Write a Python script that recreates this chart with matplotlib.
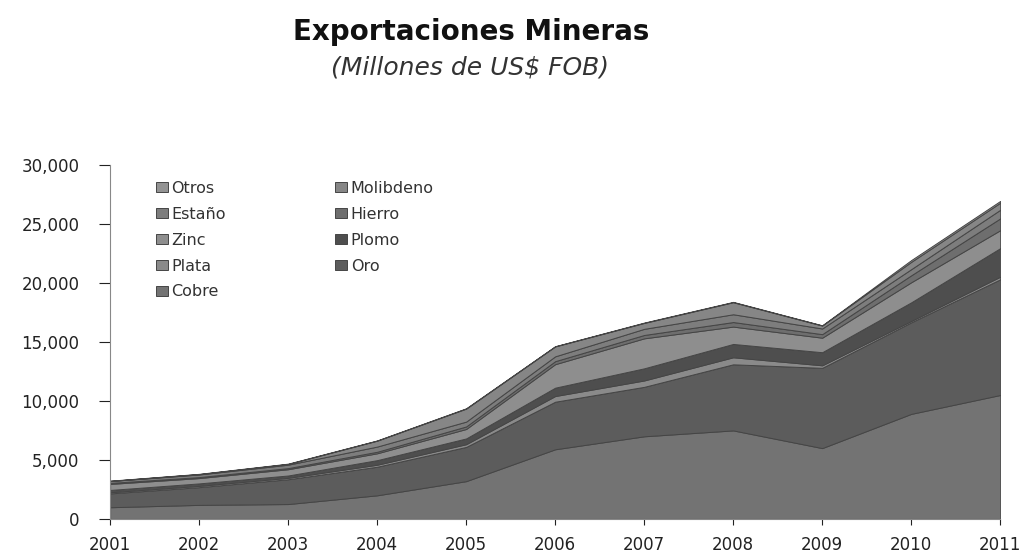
import matplotlib.pyplot as plt
import numpy as np

plt.rcParams['font.family'] = ['DejaVu Sans']

years = np.arange(2001, 2012)

# Exportaciones mineras por producto (millones US$ FOB), de abajo hacia arriba
cobre = [990, 1190, 1260, 2000, 3200, 5900, 7000, 7500, 6000, 8900, 10500]
oro = [1170, 1500, 2100, 2420, 2900, 4030, 4190, 5600, 6800, 7750, 9800]
plata = [100, 110, 120, 170, 230, 480, 540, 595, 214, 120, 220]
plomo = [195, 210, 200, 390, 490, 710, 1030, 1130, 1110, 1580, 2420]
zinc = [510, 450, 530, 580, 800, 1990, 2540, 1470, 1230, 1700, 1520]
hierro = [85, 85, 95, 130, 215, 255, 285, 385, 300, 590, 1000]
estano = [160, 220, 290, 440, 410, 410, 520, 660, 480, 520, 730]
molibdeno = [10, 30, 60, 500, 1100, 840, 500, 1020, 250, 620, 600]
otros = [20, 25, 30, 20, 30, 20, 30, 30, 20, 150, 150]

series = [cobre, oro, plata, plomo, zinc, hierro, estano, molibdeno, otros]
names = ["Cobre", "Oro", "Plata", "Plomo", "Zinc", "Hierro", "Estaño",
         "Molibdeno", "Otros"]
colors = ["#737373", "#5c5c5c", "#8a8a8a", "#4e4e4e", "#8e8e8e",
          "#6e6e6e", "#7d7d7d", "#868686", "#939393"]

fig = plt.figure(figsize=(10.29, 5.55), dpi=100)
ax = fig.add_axes([0.107, 0.065, 0.865, 0.638])

polys = ax.stackplot(years, *series, colors=colors, edgecolor="#454545",
                     linewidth=0.7)

ax.set_xlim(2001, 2011)
ax.set_ylim(0, 30000)
ax.set_xticks(years)
ax.set_yticks(np.arange(0, 30001, 5000))
ax.yaxis.set_major_formatter(plt.FuncFormatter(lambda v, p: f"{int(v):,}"))
ax.tick_params(labelsize=12, colors="#222222", width=0.8)
ax.tick_params(axis="y", length=8, pad=14)
ax.tick_params(axis="x", length=4, pad=8)
for side in ["top", "right"]:
    ax.spines[side].set_visible(False)
for side in ["left", "bottom"]:
    ax.spines[side].set_color("#888888")
    ax.spines[side].set_linewidth(0.8)

# Legend in two columns, top entry = top layer
handles = polys[::-1]
labels = names[::-1]
order = [0, 2, 4, 6, 8, 1, 3, 5, 7]
leg = ax.legend([handles[i] for i in order], [labels[i] for i in order],
                ncol=2, loc="upper left", bbox_to_anchor=(0.035, 0.995),
                frameon=False, fontsize=11.5, handlelength=0.8,
                handleheight=0.6, handletextpad=0.2, columnspacing=6.8,
                labelspacing=0.68)
for t in leg.get_texts():
    t.set_color("#333333")

fig.text(0.458, 0.943, "Exportaciones Mineras", ha="center", va="center",
         fontsize=20, fontweight="bold", color="#111111")
fig.text(0.457, 0.878, "(Millones de US$ FOB)", ha="center", va="center",
         fontsize=18, style="italic", color="#333333")

plt.savefig("out.png", dpi=100)
plt.close(fig)
